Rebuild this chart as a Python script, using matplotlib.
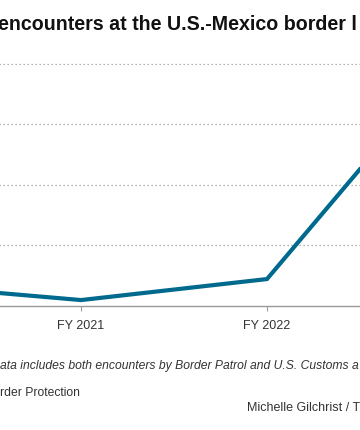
import matplotlib
matplotlib.use("Agg")
import matplotlib.pyplot as plt

# Data
years = [2020, 2021, 2022, 2023]
tick_years = [2021, 2022]
tick_labels = ["FY 2021", "FY 2022"]
encounters = [1780, 450, 2190, 20400]
grid_values = [5000, 10000, 15000, 20000]

W, H = 360, 431
fig = plt.figure(figsize=(W / 100, H / 100), dpi=100)
fig.patch.set_facecolor("white")

def fx(px):
    return px / W

def fy(py):
    return 1 - py / H

# axes placed in pixel geometry (partly outside the visible canvas)
left_px, right_px = -105, 453
top_px, bottom_px = 65, 306.5
ax = fig.add_axes([fx(left_px), fy(bottom_px), (right_px - left_px) / W, (bottom_px - top_px) / H])
ax.set_xlim(2020, 2023)
ax.set_ylim(0, 20000)
ax.patch.set_alpha(0)

for v in grid_values:
    ax.axhline(v, color="#9a9a9a", linewidth=0.9, linestyle=(0, (1, 2.2)), zorder=1, clip_on=False)

ax.plot(years, encounters, color="#006a8e", linewidth=3.0, solid_joinstyle="miter",
        solid_capstyle="butt", zorder=3, clip_on=False)

for s in ["top", "right", "left"]:
    ax.spines[s].set_visible(False)
ax.spines["bottom"].set_color("#9a9a9a")
ax.spines["bottom"].set_linewidth(1.0)
ax.set_yticks([])
ax.set_xticks(tick_years)
ax.set_xticklabels(tick_labels, fontfamily="Liberation Sans", fontsize=9, color="#333333")
ax.tick_params(axis="x", length=3.5, width=0.8, color="#9a9a9a", pad=6)

# Title (cropped)
fig.text(fx(-1.5), fy(25), "encounters at the U.S.-Mexico border l", fontfamily="Liberation Sans",
         fontweight="bold", fontsize=14.1, color="#111111", ha="left", va="center")

# Note / source / credit (cropped)
fig.text(fx(-0.5), fy(366), "ata includes both encounters by Border Patrol and U.S. Customs a",
         fontfamily="Liberation Sans", fontstyle="italic", fontsize=8.7, color="#333333",
         ha="left", va="center")
fig.text(fx(0), fy(393), "rder Protection", fontfamily="Liberation Sans", fontsize=8.7,
         color="#333333", ha="left", va="center")
fig.text(fx(247), fy(408), "Michelle Gilchrist / T", fontfamily="Liberation Sans", fontsize=9.0,
         color="#333333", ha="left", va="center")

fig.savefig("out.png", dpi=100, facecolor="white")
